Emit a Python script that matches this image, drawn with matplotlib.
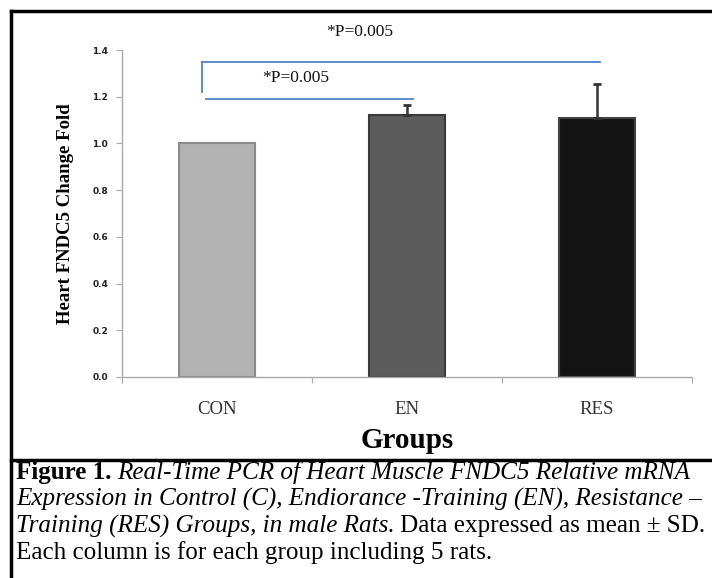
import matplotlib
matplotlib.use("Agg")
import matplotlib.pyplot as plt
from matplotlib.lines import Line2D

# ---- data ----
groups = ["CON", "EN", "RES"]
means = [1.00, 1.12, 1.11]
sds = [0.00, 0.045, 0.145]
bar_colors = ["#b2b2b2", "#5c5c5c", "#141414"]
edge_colors = ["#8a8a8a", "#3a3a3a", "#444444"]
y_ticks = [0.0, 0.2, 0.4, 0.6, 0.8, 1.0, 1.2, 1.4]
sig_label = "*P=0.005"
bracket_top_y = 1.35
bracket_low_y = 1.19
bracket_vert_bottom = 1.22

W, H = 712, 578
fig = plt.figure(figsize=(W / 100, H / 100), dpi=100)
fig.patch.set_facecolor("white")

ax = fig.add_axes([122 / W, 1 - 377 / H, (692 - 122) / W, (377 - 50) / H])
x = list(range(len(groups)))
ax.bar(x, means, width=0.405, color=bar_colors, edgecolor=edge_colors,
       linewidth=1.5, zorder=2)
ex = [xi for xi, s in zip(x, sds) if s > 0]
ey = [m for m, s in zip(means, sds) if s > 0]
es = [s for s in sds if s > 0]
ax.errorbar(ex, ey, yerr=[[0] * len(es), es], fmt="none",
            ecolor="#333333", elinewidth=1.8, capsize=3, capthick=2, zorder=3)

ax.set_xlim(-0.5, 2.5)
ax.set_ylim(0, 1.4)
ax.set_yticks(y_ticks)
ax.set_yticklabels([f"{v:.1f}" for v in y_ticks], fontsize=6.5,
                   fontweight="bold", color="#222222", family="DejaVu Sans")
ax.set_xticks([-0.5, 0.5, 1.5, 2.5])
ax.set_xticklabels([])
ax.set_xticks(x, minor=True)
ax.set_xticklabels(groups, minor=True, fontsize=13.5, family="Liberation Serif",
                   color="#333333")
ax.tick_params(axis="x", which="minor", length=0, pad=17)
ax.tick_params(axis="x", which="major", length=4, color="#aaaaaa", direction="out")
ax.tick_params(axis="y", length=4, color="#aaaaaa", direction="out", pad=6)
for s in ["top", "right"]:
    ax.spines[s].set_visible(False)
for s in ["left", "bottom"]:
    ax.spines[s].set_color("#aaaaaa")
    ax.spines[s].set_linewidth(1.0)

ax.set_ylabel("Heart FNDC5 Change Fold", family="Liberation Serif",
              fontweight="bold", fontsize=13.5, labelpad=13)

# significance brackets
bc = "#4f81bd"
ax.plot([-0.08, -0.08], [bracket_vert_bottom, bracket_top_y], color=bc, lw=1.3,
        clip_on=False)
ax.plot([-0.08, 2.015], [bracket_top_y, bracket_top_y], color=bc, lw=1.3,
        clip_on=False)
ax.plot([-0.058, 1.03], [bracket_low_y, bracket_low_y], color=bc, lw=1.3,
        clip_on=False)
ax.text(0.75, 1.475, sig_label, ha="center", va="center", fontsize=12.5,
        family="Liberation Serif", color="#111111", clip_on=False)
ax.text(0.415, 1.28, sig_label, ha="center", va="center", fontsize=12.5,
        family="Liberation Serif", color="#111111")

# x axis title
fig.text(407 / W, 1 - 440 / H, "Groups", ha="center", va="center",
         fontsize=21, fontweight="bold", family="Liberation Serif")

# frame lines
fig.add_artist(Line2D([11 / W, 11 / W], [0, 1 - 11 / H], color="black", lw=2.5))
fig.add_artist(Line2D([11 / W, 1], [1 - 11 / H, 1 - 11 / H], color="black", lw=2.5))
fig.add_artist(Line2D([11 / W, 1], [1 - 460 / H, 1 - 460 / H], color="black", lw=2.5))

# caption
caption_lines = [
    [("Figure 1.", dict(fontweight="bold")),
     ("Real-Time PCR of Heart Muscle FNDC5 Relative mRNA", dict(style="italic"))],
    [("Expression in Control (C), Endiorance -Training (EN), Resistance \u2013",
      dict(style="italic"))],
    [("Training (RES) Groups, in male Rats.", dict(style="italic")),
     ("Data expressed as mean \u00b1 SD.", dict())],
    [("Each column is for each group including 5 rats.", dict())],
]
renderer = fig.canvas.get_renderer()
y0 = 1 - 473 / H
dy = 26.5 / H
x_left, x_right = 16, 707


def layout(fs, draw):
    widest = 0
    for i, parts in enumerate(caption_lines):
        xp = x_left
        for j, (s, kw) in enumerate(parts):
            if j > 0:
                xp += fs * 0.3
            t = fig.text(xp / W, y0 - i * dy, s, fontsize=fs,
                         family="Liberation Serif", va="center", **kw)
            xp = t.get_window_extent(renderer).x1
            if not draw:
                t.remove()
        widest = max(widest, xp)
    return widest


fs = 18.0
w = layout(fs, False)
fs = fs * (x_right - x_left) / (w - x_left)
layout(fs, True)

fig.savefig("out.png", dpi=100)
